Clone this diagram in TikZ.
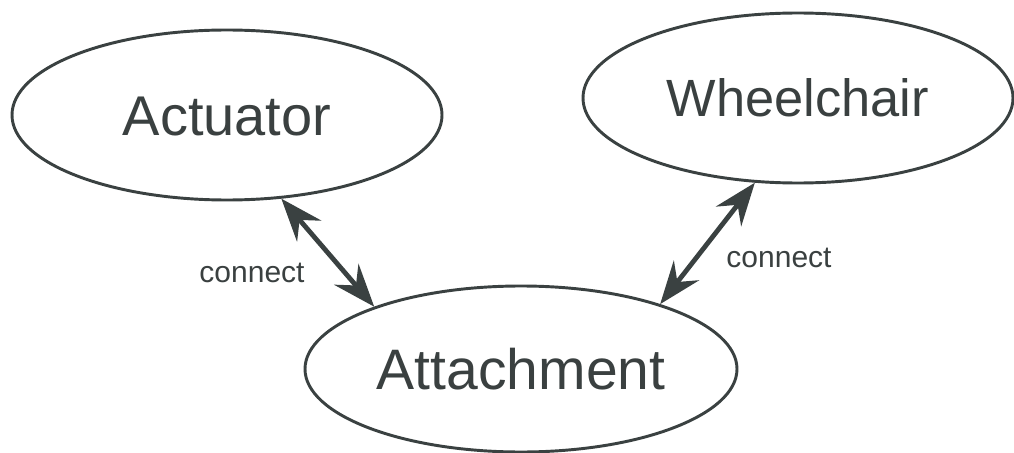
\documentclass[tikz,border=0pt]{standalone}
\usepackage{fontspec}
\setmainfont{Liberation Sans}
\usetikzlibrary{shapes.geometric,arrows.meta}
\definecolor{ink}{HTML}{3A4141}
\definecolor{txt}{HTML}{3A4040}
\tikzset{
  entity/.style={ellipse, draw=ink, line width=2.2pt, inner sep=0pt, text=txt,
    text depth=0pt},
  link/.style={draw=ink, line width=3.6pt,
    {Stealth[length=32pt,width=24pt,inset=11pt]}-{Stealth[length=32pt,width=24pt,inset=11pt]}},
  lbl/.style={text=txt, font=\fontsize{22.5}{26}\selectfont, inner sep=0pt}
}
\begin{document}
\begin{tikzpicture}[x=0.75pt,y=-0.75pt]
\useasboundingbox[fill=white] (0,0) rectangle (1014,453);
\node[entity, minimum width=322.5pt, minimum height=127.5pt, text height=30pt,
  font=\fontsize{42}{48}\selectfont] (act) at (227,115) {Actuator};
\node[entity, minimum width=322.5pt, minimum height=127.5pt, text height=28.1pt,
  font=\fontsize{39.3}{45}\selectfont] (wch) at (798,98) {Wheelchair};
\node[entity, minimum width=324pt, minimum height=124.5pt, text height=30.6pt,
  font=\fontsize{42.8}{49}\selectfont] (att) at (521,369) {Attachment};
\draw[link] (act.-57.4) -- (att.157.6);
\draw[link] (wch.-117.4) -- (att.25);
\node[lbl] (l1) at (252,273) {connect};
\node[lbl] (l2) at (779,258) {connect};
\end{tikzpicture}
\end{document}
